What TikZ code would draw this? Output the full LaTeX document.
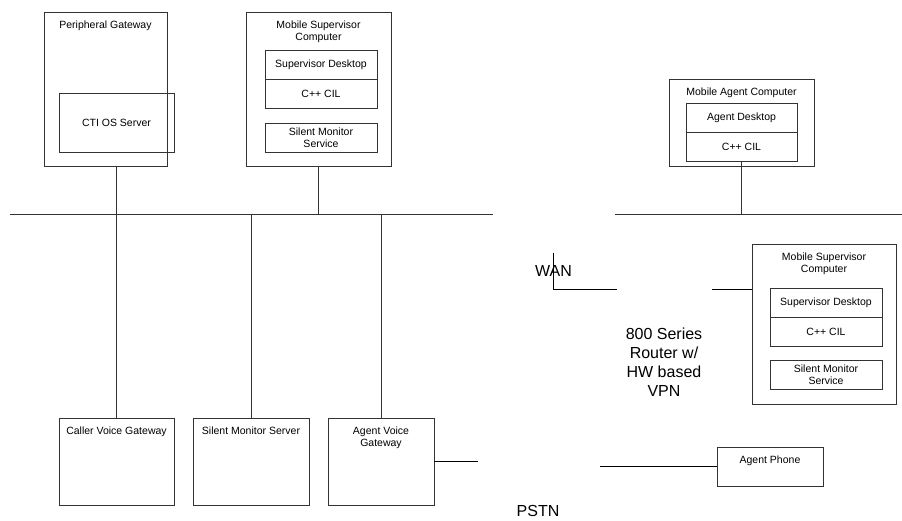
\documentclass[tikz,border=0pt]{standalone}
\usepackage{fontspec}
\setmainfont{Liberation Sans}
\usetikzlibrary{positioning}

\newcommand{\boxfont}{\fontsize{10.5}{12.5}\selectfont}
\newcommand{\bigfont}{\fontsize{16}{19}\selectfont}

\begin{document}
\begin{tikzpicture}[x=1pt, y=-1pt,
        host/.style={draw=black!80, line width=0.8pt, rectangle, outer sep=0pt, inner sep=2pt, align=center, font=\boxfont},
        titled/.style={label={[anchor=north, yshift=-5pt, align=center, font=\boxfont]north:#1}},
        wire/.style={draw=black!80, line width=0.8pt},
        cloudtext/.style={align=center, font=\bigfont, inner sep=0pt}
    ]
    \useasboundingbox (0,0) rectangle (902,521);

    % Central site
    \node[host, titled={Peripheral Gateway}, minimum width=123, minimum height=154] (pg) at (105.5, 89) {};
    \node[host, minimum width=115, minimum height=59] (ctios) at (116.5, 122.5) {CTI OS Server};

    \node[host, titled={Mobile Supervisor\\Computer}, minimum width=145, minimum height=154] (msc1) at (318.5, 89) {};
    \node[host, minimum width=112, minimum height=29] (sd1) at (321, 64.5) {Supervisor Desktop};
    \node[host, minimum width=112, minimum height=29, below=0pt of sd1] (cil1) {C++ CIL};
    \node[host, minimum width=112, minimum height=29] (sms1) at (321, 137.5) {Silent Monitor\\Service};

    \node[host, titled={Caller Voice Gateway}, minimum width=115, minimum height=87] (cvg) at (116.5, 461.5) {};
    \node[host, titled={Silent Monitor Server}, minimum width=116, minimum height=87] (sms) at (251, 461.5) {};
    \node[host, titled={Agent Voice\\Gateway}, minimum width=106, minimum height=87] (avg) at (381, 461.5) {};

    \coordinate (lanL) at (10, 214);
    \coordinate (lanR) at (493, 214);
    \draw[wire] (lanL) -- (lanR);
    \draw[wire] (cvg.north |- pg.south) -- (cvg.north);
    \draw[wire] (msc1.south) -- (msc1.south |- lanL);
    \draw[wire] (sms.north |- lanL) -- (sms.north);
    \draw[wire] (avg.north |- lanL) -- (avg.north);

    % Remote agent site
    \node[host, titled={Mobile Agent Computer}, minimum width=145, minimum height=87] (mac) at (741.5, 122.5) {};
    \node[host, minimum width=111, minimum height=29] (ad) at (741.5, 117.5) {Agent Desktop};
    \node[host, minimum width=111, minimum height=29, below=0pt of ad] (cil3) {C++ CIL};

    \coordinate (remL) at (615, 214);
    \coordinate (remR) at (902, 214);
    \draw[wire] (remL) -- (remR);
    \draw[wire] (cil3.south) -- (cil3.south |- remL);

    \node[host, titled={Mobile Supervisor\\Computer}, minimum width=144, minimum height=160] (msc2) at (824, 324) {};
    \node[host, minimum width=112, minimum height=29] (sd2) at (826, 302.5) {Supervisor Desktop};
    \node[host, minimum width=112, minimum height=29, below=0pt of sd2] (cil2) {C++ CIL};
    \node[host, minimum width=112, minimum height=29] (sms2) at (826, 374.5) {Silent Monitor\\Service};

    \node[host, titled={Agent Phone}, minimum width=106, minimum height=39] (phone) at (770, 466.5) {};

    % WAN / router / PSTN
    \node[cloudtext] (wan) at (553.5, 271) {WAN};
    \node[cloudtext] (router) at (664, 362) {800 Series\\Router w/\\HW based\\VPN};
    \node[cloudtext] (pstn) at (538, 511) {PSTN};

    \coordinate (wanup) at (553, 253);
    \coordinate (wanend) at (617, 289);
    \coordinate (vpnin) at (712, 289);
    \coordinate (pstnout) at (478, 461.5);
    \coordinate (pstnin) at (600, 466.5);

    \draw[wire, draw=black] (wanup) |- (wanend);
    \draw[wire, draw=black] (vpnin) -- (vpnin -| msc2.west);
    \draw[wire, draw=black] (avg.east) -- (pstnout);
    \draw[wire, draw=black] (pstnin) -- (phone.west);

\end{tikzpicture}
\end{document}
